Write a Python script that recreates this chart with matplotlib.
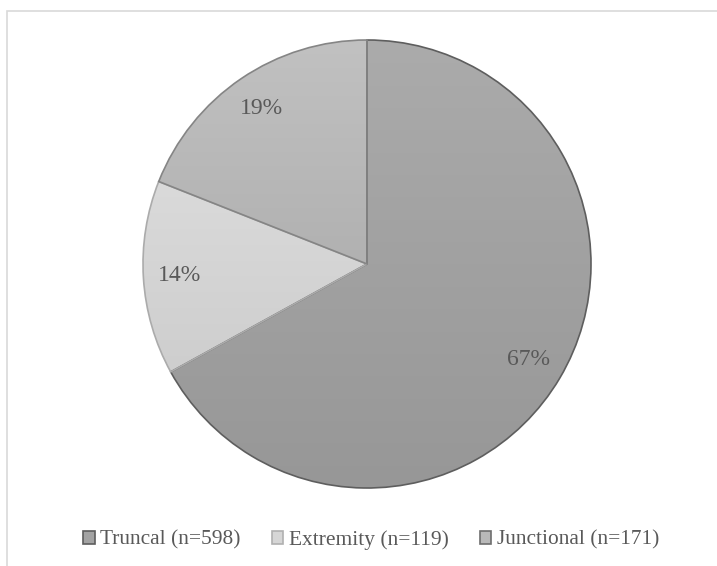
import numpy as np
import matplotlib.pyplot as plt
from matplotlib.patches import Rectangle

plt.rcParams['font.family'] = ['Liberation Serif', 'DejaVu Serif']

# injury location groups
labels = ['Truncal', 'Extremity', 'Junctional']
counts = [598, 119, 171]
percents = [67, 14, 19]

# vertical gradient per slice (top, bottom) and outline colour
top_colors = ['#ababab', '#dadada', '#c1c1c1']
bottom_colors = ['#979797', '#cecece', '#b1b1b1']
edge_colors = ['#5e5e5e', '#ababab', '#858585']
text_color = '#595959'

fig = plt.figure(figsize=(7.17, 5.66), dpi=100)
ax = fig.add_axes([0, 0, 1, 1])

wedges, texts, autotexts = ax.pie(
    percents, center=(367, 302), radius=224, startangle=90,
    counterclock=False, autopct=lambda p: f'{p:.0f}%', pctdistance=0.84,
    textprops=dict(color=text_color, fontsize=17),
    wedgeprops=dict(linewidth=1.2))

def hex_rgb(h):
    return np.array([int(h[i:i + 2], 16) / 255 for i in (1, 3, 5)])

for w, top, bot, ec in zip(wedges, top_colors, bottom_colors, edge_colors):
    verts = w.get_path().vertices
    x0, x1 = verts[:, 0].min(), verts[:, 0].max()
    y0, y1 = verts[:, 1].min(), verts[:, 1].max()
    t = np.linspace(0, 1, 256)[:, None]
    grad = (1 - t) * hex_rgb(top) + t * hex_rgb(bot)
    img = ax.imshow(grad[:, None, :], extent=(x0, x1, y0, y1), origin='upper',
                    aspect='auto', interpolation='bilinear', zorder=0.5)
    img.set_clip_path(w)
    w.set_facecolor('none')
    w.set_edgecolor(ec)
    w.set_zorder(1)

for t in autotexts:
    t.set_zorder(3)

ax.set_xlim(0, 717)
ax.set_ylim(0, 566)
ax.set_aspect('equal')
ax.axis('off')

# chart area border (runs off the right and bottom edges)
fig.patches.append(Rectangle((7 / 717, -0.01), 1.0, 1 - 11 / 566 + 0.01,
                             transform=fig.transFigure, fill=False,
                             edgecolor='#d9d9d9', linewidth=1.2))

handles = [Rectangle((0, 0), 1, 1, facecolor=c, edgecolor=e, linewidth=1.2)
           for c, e in zip(['#a3a3a3', '#d6d6d6', '#b9b9b9'],
                           ['#5e5e5e', '#b0b0b0', '#6e6e6e'])]
legend_labels = [f'{l} (n={n})' for l, n in zip(labels, counts)]
fig.legend(handles, legend_labels, loc='center',
           bbox_to_anchor=(371 / 717, 1 - 540 / 566), ncol=3, frameon=False,
           handlelength=0.55, handleheight=0.55, handletextpad=0.25,
           columnspacing=1.45, fontsize=15.4, labelcolor=text_color)

fig.savefig('out.png', dpi=100)
